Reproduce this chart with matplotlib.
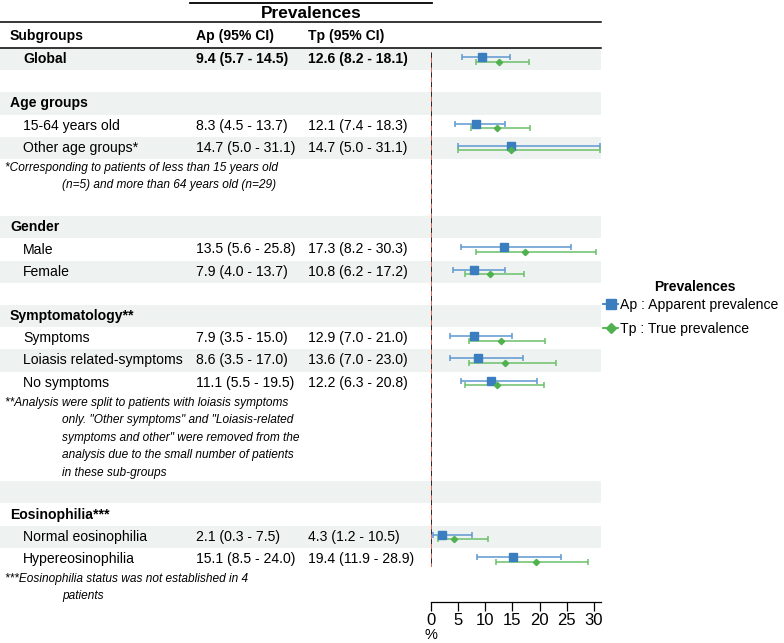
import matplotlib
matplotlib.use("Agg")
import matplotlib.pyplot as plt
from matplotlib.lines import Line2D
from matplotlib.patches import Rectangle

plt.rcParams['font.family'] = ['Liberation Sans', 'DejaVu Sans']

# ---- data ----
subgroups = ["Global", "15-64 years old", "Other age groups*", "Male", "Female",
             "Symptoms", "Loiasis related-symptoms", "No symptoms",
             "Normal eosinophilia", "Hypereosinophilia"]
ap = [9.4, 8.3, 14.7, 13.5, 7.9, 7.9, 8.6, 11.1, 2.1, 15.1]
ap_lo = [5.7, 4.5, 5.0, 5.6, 4.0, 3.5, 3.5, 5.5, 0.3, 8.5]
ap_hi = [14.5, 13.7, 31.1, 25.8, 13.7, 15.0, 17.0, 19.5, 7.5, 24.0]
tp = [12.6, 12.1, 14.7, 17.3, 10.8, 12.9, 13.6, 12.2, 4.3, 19.4]
tp_lo = [8.2, 7.4, 5.0, 8.2, 6.2, 7.0, 7.0, 6.3, 1.2, 11.9]
tp_hi = [18.1, 18.3, 31.1, 30.3, 17.2, 21.0, 23.0, 20.8, 10.5, 28.9]

note_age = ["*Corresponding to patients of less than 15 years old",
            "(n=5) and more than 64 years old (n=29)"]
note_sym = ["**Analysis were split to patients with loiasis symptoms",
            "only. \"Other symptoms\" and \"Loiasis-related",
            "symptoms and other\" were removed from the",
            "analysis due to the small number of patients",
            "in these sub-groups"]
note_eos = ["***Eosinophilia status was not established in 4",
            "patients"]

# table layout: (kind, content); items refer to subgroups index
layout = [
    ("total", 0), ("blank", None),
    ("head", "Age groups"), ("item", 1), ("item", 2), ("note", note_age), ("blank", None),
    ("head", "Gender"), ("item", 3), ("item", 4), ("blank", None),
    ("head", "Symptomatology**"), ("item", 5), ("item", 6), ("item", 7), ("note", note_sym),
    ("blank", None),
    ("head", "Eosinophilia***"), ("item", 8), ("item", 9), ("note", note_eos),
]

W, H = 784, 643
ROW = 22.2
NOTE = 17.5
TOP = 48
PLOT_RIGHT = 601
X0_PX = 431
XMAX = 31.3
AXIS_Y = 602

blue = "#3a7ebf"
blue_l = "#5e98d0"
green = "#4fb24f"
green_l = "#6cc06a"
shade = "#eef2f1"
fs = 10.1

fig = plt.figure(figsize=(W / 100, H / 100), dpi=100)
bg = fig.add_axes([0, 0, 1, 1])
bg.set_xlim(0, W)
bg.set_ylim(H, 0)
bg.axis("off")

# header
bg.plot([190, 432], [2.5, 2.5], color="black", lw=1.3)
bg.text(311, 13, "Prevalences", ha="center", va="center", fontsize=12.4, fontweight="bold")
bg.plot([0, PLOT_RIGHT], [22, 22], color="black", lw=1.1)
bg.text(10, 36, "Subgroups", ha="left", va="center", fontsize=fs, fontweight="bold")
bg.text(196, 36, "Ap (95% CI)", ha="left", va="center", fontsize=fs, fontweight="bold")
bg.text(308, 36, "Tp (95% CI)", ha="left", va="center", fontsize=fs, fontweight="bold")
bg.plot([0, PLOT_RIGHT], [47.5, 47.5], color="black", lw=1.1)

y = TOP
shaded = True
item_y = {}
for kind, content in layout:
    if kind == "note":
        for j, line in enumerate(content):
            yc = y + NOTE / 2
            bg.text(5 if j == 0 else 62, yc, line, ha="left", va="center",
                    fontsize=8.6, style="italic")
            y += NOTE
        continue
    if shaded:
        bg.add_patch(Rectangle((0, y), PLOT_RIGHT, ROW, color=shade, lw=0, zorder=0))
    yc = y + ROW / 2
    if kind == "head":
        bg.text(10, yc, content, ha="left", va="center", fontsize=fs, fontweight="bold")
    elif kind in ("item", "total"):
        i = content
        w = "bold" if kind == "total" else "normal"
        bg.text(23, yc, subgroups[i], ha="left", va="center", fontsize=fs, fontweight=w)
        bg.text(196, yc, f"{ap[i]:.1f} ({ap_lo[i]:.1f} - {ap_hi[i]:.1f})",
                ha="left", va="center", fontsize=fs, fontweight=w)
        bg.text(308, yc, f"{tp[i]:.1f} ({tp_lo[i]:.1f} - {tp_hi[i]:.1f})",
                ha="left", va="center", fontsize=fs, fontweight=w)
        item_y[i] = yc
    y += ROW
    shaded = not shaded

# forest panel, y in pixel units
ax = fig.add_axes([X0_PX / W, 1 - AXIS_Y / H, (PLOT_RIGHT - X0_PX) / W, AXIS_Y / H])
ax.patch.set_alpha(0)
ax.set_xlim(0, XMAX)
ax.set_ylim(AXIS_Y, 0)

last_y = max(item_y.values())
ax.plot([0, 0], [TOP + 5, last_y + 7], color="#e8604e", lw=1.4, zorder=2)
ax.plot([0, 0], [TOP + 5, last_y + 7], color="#2a2a2a", lw=1.4, dashes=(2.5, 2.5), zorder=3)

for i, yc in item_y.items():
    ax.errorbar(ap[i], yc - 2, xerr=[[ap[i] - ap_lo[i]], [ap_hi[i] - ap[i]]],
                fmt="s", color=blue, ecolor=blue_l, markersize=5.2, elinewidth=1.1,
                capsize=2.4, capthick=1.1, zorder=4, clip_on=False)
    ax.errorbar(tp[i], yc + 2.5, xerr=[[tp[i] - tp_lo[i]], [tp_hi[i] - tp[i]]],
                fmt="D", color=green, ecolor=green_l, markersize=3.2, elinewidth=1.1,
                capsize=2.4, capthick=1.1, zorder=4, clip_on=False)

for s in ["left", "right", "top"]:
    ax.spines[s].set_visible(False)
ax.spines["bottom"].set_linewidth(0.9)
ax.set_yticks([])
ax.set_xticks(range(0, 31, 5))
ax.tick_params(axis="x", length=6.5, width=0.9, labelsize=12, pad=1.5)
ax.set_xlabel("%", fontsize=10.5)
ax.xaxis.set_label_coords(0, -0.044)
ax.xaxis.label.set_ha("center")

# legend (title drawn separately to match its spacing)
bg.text(695, 287, "Prevalences", ha="center", va="center", fontsize=10.1, fontweight="bold")
handles = [Line2D([], [], color=blue, marker="s", markersize=7, lw=1.3),
           Line2D([], [], color=green, marker="D", markersize=5, lw=1.3)]
fig.legend(handles, ["Ap : Apparent prevalence", "Tp : True prevalence"],
           loc="upper left", bbox_to_anchor=(603 / W, 1 - 297.5 / H), frameon=False,
           borderpad=0, borderaxespad=0, handlelength=1.1, handletextpad=0.1,
           labelspacing=0.75, fontsize=10.1)

fig.savefig("out.png", dpi=100)
